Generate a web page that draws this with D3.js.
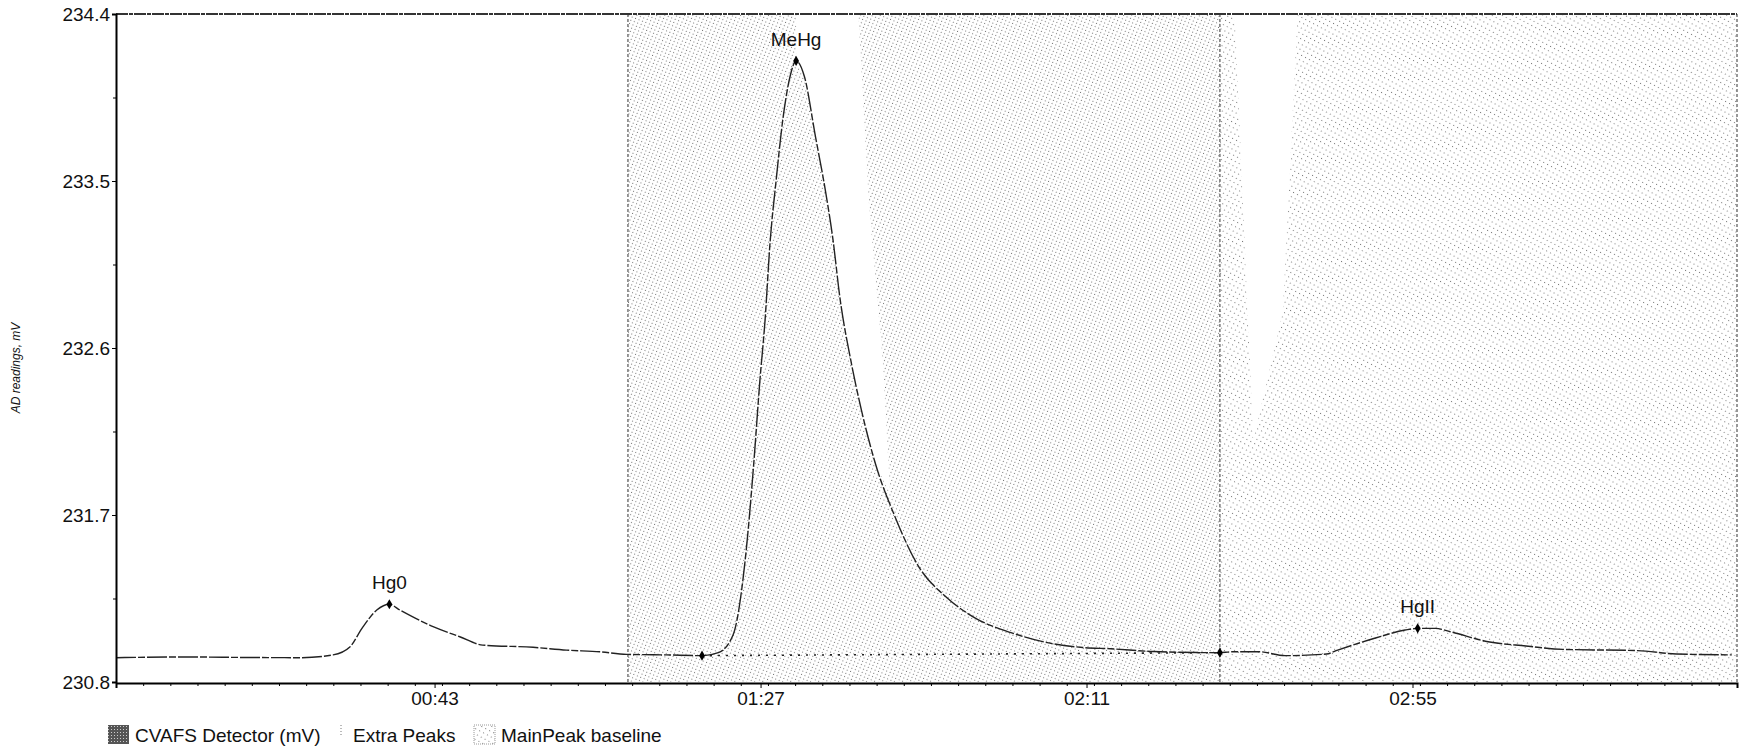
<!DOCTYPE html>
<html>
<head>
<meta charset="utf-8">
<script src="https://cdn.jsdelivr.net/npm/d3@7"></script>
<style>
  body { margin: 0; background: #fff; }
  text { font-family: "Liberation Sans", Arial, sans-serif; fill: #111; }
</style>
</head>
<body>
<div id="chart"></div>
<script>
var width = 1739, height = 751;
var margin = { top: 14, right: 2, bottom: 69, left: 116 };

// axis values
const timeDomain = [0, 218.8];
const mvDomain = [230.8, 234.4];
const yTicks = [230.8, 231.7, 232.6, 233.5, 234.4];
const xTickLabels = ["00:43", "01:27", "02:11", "02:55"];

// detector trace, seconds vs mV
const signalTime = [0, 9.6, 18.1, 24.8, 29.3, 31.6, 33.2, 35.2, 36.9, 38.3, 42.8, 46.4, 49.5, 56.3,
    60.8, 65.3, 68.9, 74.3, 79.1, 81.3, 83.3, 84.9, 86.1, 86.9, 87.6, 88.3, 89.1, 90.0, 91.0, 91.8,
    92.9, 94.4, 95.8, 96.8, 97.7, 99.2, 100.6, 102.6, 105.0, 108.3, 112.2, 116.1, 120.8, 125.7,
    130.5, 134.3, 140.1, 148.8, 150.7, 154.3, 157.8, 163.4, 164.9, 170.0, 174.0, 175.7, 178.1,
    180.1, 185.2, 190.3, 195.3, 205.4, 210.6, 218.1];
const signalMv = [230.931, 230.935, 230.932, 230.931, 230.946, 230.990, 231.089, 231.188, 231.219,
    231.188, 231.098, 231.044, 230.999, 230.987, 230.972, 230.963, 230.949, 230.946, 230.942,
    230.958, 231.055, 231.447, 231.986, 232.419, 232.745, 233.177, 233.502, 233.829, 234.066,
    234.147, 234.066, 233.742, 233.437, 233.177, 232.875, 232.530, 232.268, 231.964, 231.705,
    231.425, 231.253, 231.142, 231.066, 231.012, 230.986, 230.979, 230.964, 230.958, 230.963,
    230.963, 230.942, 230.951, 230.972, 231.037, 231.080, 231.089, 231.089, 231.071, 231.017,
    230.994, 230.976, 230.969, 230.951, 230.946];

// detected peaks
const peakNames = ["Hg0", "MeHg", "HgII"];
const peakTime = [36.9, 91.8, 175.7];
const peakMv = [231.219, 234.147, 231.089];

// main peak baseline end points
const baselineTime = [79.1, 149.0];
const baselineMv = [230.942, 230.958];

// shaded integration windows
const extraPeakRange = [69.1, 149.0];
const mainPeakRange = [149.0, 218.8];

// unshaded gaps left by the scan
const gapRightTime = [100.2, 101.6, 103.5, 104.5];
const gapRightMv = [234.4, 233.394, 232.53, 231.813];
const gapLeftTime = [151.0, 159.5, 157.5, 153.5];
const gapLeftMv = [234.4, 234.4, 232.8, 232.1];

const legendLabels = ["CVAFS Detector (mV)", "Extra Peaks", "MainPeak baseline"];

function toSeconds(s) {
    var p = s.split(":");
    return +p[0] * 60 + +p[1];
}

var svg = d3.select("#chart").append("svg")
    .attr("width", width)
    .attr("height", height);

var x = d3.scaleLinear().domain(timeDomain).range([margin.left, width - margin.right]);
var y = d3.scaleLinear().domain(mvDomain).range([height - margin.bottom, margin.top]);

// dot textures
var defs = svg.append("defs");
var dense = defs.append("pattern")
    .attr("id", "dense")
    .attr("patternUnits", "userSpaceOnUse")
    .attr("width", 3.5).attr("height", 3.7)
    .attr("patternTransform", "rotate(-68)");
dense.append("rect").attr("width", 1).attr("height", 1).attr("fill", "#707070");

var sparse = defs.append("pattern")
    .attr("id", "sparse")
    .attr("patternUnits", "userSpaceOnUse")
    .attr("width", 4.8).attr("height", 4.4)
    .attr("patternTransform", "rotate(-62)");
sparse.append("rect").attr("width", 1).attr("height", 1).attr("fill", "#777");

var hatch = defs.append("pattern")
    .attr("id", "hatch")
    .attr("patternUnits", "userSpaceOnUse")
    .attr("width", 3).attr("height", 3);
hatch.append("rect").attr("width", 3).attr("height", 3).attr("fill", "#555");
hatch.append("rect").attr("width", 1).attr("height", 1).attr("fill", "#ccc");

var signal = signalTime.map((t, i) => ({ t: t, v: signalMv[i] }));

// shaded windows
svg.append("rect")
    .attr("x", x(extraPeakRange[0]))
    .attr("y", y(mvDomain[1]))
    .attr("width", x(extraPeakRange[1]) - x(extraPeakRange[0]))
    .attr("height", y(mvDomain[0]) - y(mvDomain[1]))
    .attr("fill", "url(#dense)");

svg.append("rect")
    .attr("x", x(mainPeakRange[0]))
    .attr("y", y(mvDomain[1]))
    .attr("width", x(mainPeakRange[1]) - x(mainPeakRange[0]))
    .attr("height", y(mvDomain[0]) - y(mvDomain[1]))
    .attr("fill", "url(#sparse)");

// white gaps
var peakT = peakTime[1];
var gap1 = [[peakT, mvDomain[1]]]
    .concat(gapRightTime.map((t, i) => [t, gapRightMv[i]]))
    .concat(signal.filter(d => d.t >= peakT && d.t <= gapRightTime[gapRightTime.length - 1])
        .reverse().map(d => [d.t, d.v]));
var gap2 = gapLeftTime.map((t, i) => [t, gapLeftMv[i]]);

svg.selectAll(".gap")
    .data([gap1, gap2])
    .enter().append("path")
    .attr("class", "gap")
    .attr("d", d => d3.line().x(p => x(p[0])).y(p => y(p[1])).curve(d3.curveLinearClosed)(d))
    .attr("fill", "#fff");

// window edges
svg.selectAll(".edge")
    .data([extraPeakRange[0], extraPeakRange[1], mainPeakRange[1]])
    .enter().append("line")
    .attr("class", "edge")
    .attr("x1", d => x(d)).attr("x2", d => x(d))
    .attr("y1", y(mvDomain[1])).attr("y2", y(mvDomain[0]))
    .attr("stroke", "#777")
    .attr("stroke-width", 1.5)
    .attr("stroke-dasharray", "3,2");

// top frame
svg.append("line")
    .attr("x1", x(timeDomain[0])).attr("x2", x(timeDomain[1]))
    .attr("y1", y(mvDomain[1])).attr("y2", y(mvDomain[1]))
    .attr("stroke", "#333")
    .attr("stroke-width", 2)
    .attr("stroke-dasharray", "12,1,4,1");

// baseline
svg.append("line")
    .attr("x1", x(baselineTime[0])).attr("y1", y(baselineMv[0]))
    .attr("x2", x(baselineTime[1])).attr("y2", y(baselineMv[1]))
    .attr("stroke", "#222")
    .attr("stroke-width", 1.6)
    .attr("stroke-dasharray", "2,6");

// trace
svg.append("path")
    .datum(signal)
    .attr("d", d3.line().x(d => x(d.t)).y(d => y(d.v)).curve(d3.curveMonotoneX))
    .attr("fill", "none")
    .attr("stroke", "#222")
    .attr("stroke-width", 1.4)
    .attr("stroke-dasharray", "20,2,7,2");

// markers
var diamond = d3.symbol().type(d3.symbolDiamond).size(30);
var markerPts = peakTime.map((t, i) => ({ t: t, v: peakMv[i] }))
    .concat(baselineTime.map((t, i) => ({ t: t, v: baselineMv[i] })));
svg.selectAll(".mk")
    .data(markerPts)
    .enter().append("path")
    .attr("class", "mk")
    .attr("transform", d => "translate(" + x(d.t) + "," + y(d.v) + ")")
    .attr("d", diamond)
    .attr("fill", "#000");

svg.selectAll(".plabel")
    .data(peakNames)
    .enter().append("text")
    .attr("class", "plabel")
    .attr("x", (d, i) => x(peakTime[i]))
    .attr("y", (d, i) => y(peakMv[i]) - 15)
    .attr("text-anchor", "middle")
    .style("font-size", "19px")
    .text(d => d);

// y axis
var yAxis = svg.append("g")
    .attr("transform", "translate(" + margin.left + ",0)")
    .call(d3.axisLeft(y).tickValues(yTicks).tickSize(4).tickFormat(d3.format(".1f")));
yAxis.select(".domain").attr("stroke", "#000").attr("stroke-width", 2);
yAxis.selectAll("text").style("font-size", "19px").attr("x", -6);

var yMinor = d3.range(yTicks.length - 1).map(i => (yTicks[i] + yTicks[i + 1]) / 2);
svg.append("g")
    .attr("transform", "translate(" + margin.left + ",0)")
    .call(d3.axisLeft(y).tickValues(yMinor).tickSize(3).tickFormat(""))
    .select(".domain").remove();

// x axis
var xMajor = xTickLabels.map(toSeconds);
var xAxis = svg.append("g")
    .attr("transform", "translate(0," + (height - margin.bottom + 1) + ")")
    .call(d3.axisBottom(x).tickValues(xMajor).tickSize(5).tickFormat((d, i) => xTickLabels[i]));
xAxis.select(".domain").attr("stroke", "#000").attr("stroke-width", 2);
xAxis.selectAll("text").style("font-size", "19px").attr("y", 9);

var step = (xMajor[1] - xMajor[0]) / 12;
var xMinor = d3.range(step, timeDomain[1], step);
svg.append("g")
    .attr("transform", "translate(0," + (height - margin.bottom + 1) + ")")
    .call(d3.axisBottom(x).tickValues(xMinor).tickSize(3).tickFormat(""))
    .select(".domain").remove();

// y title
svg.append("text")
    .attr("transform", "translate(20,368) rotate(-90)")
    .attr("text-anchor", "middle")
    .style("font-size", "12px")
    .style("font-style", "italic")
    .text("AD readings, mV");

// legend
var lg = svg.append("g").attr("transform", "translate(108,735)");
lg.append("rect").attr("x", 0).attr("y", -10).attr("width", 21).attr("height", 19)
    .attr("fill", "url(#hatch)");
lg.append("text").attr("x", 27).attr("y", 7).style("font-size", "19px").text(legendLabels[0]);
lg.append("line").attr("x1", 233).attr("x2", 233).attr("y1", -10).attr("y2", 2)
    .attr("stroke", "#777").attr("stroke-dasharray", "1,2");
lg.append("text").attr("x", 245).attr("y", 7).style("font-size", "19px").text(legendLabels[1]);
lg.append("rect").attr("x", 366).attr("y", -10).attr("width", 21).attr("height", 19)
    .attr("fill", "url(#sparse)")
    .attr("stroke", "#999").attr("stroke-dasharray", "1,1");
lg.append("text").attr("x", 393).attr("y", 7).style("font-size", "19px").text(legendLabels[2]);
</script>
</body>
</html>
